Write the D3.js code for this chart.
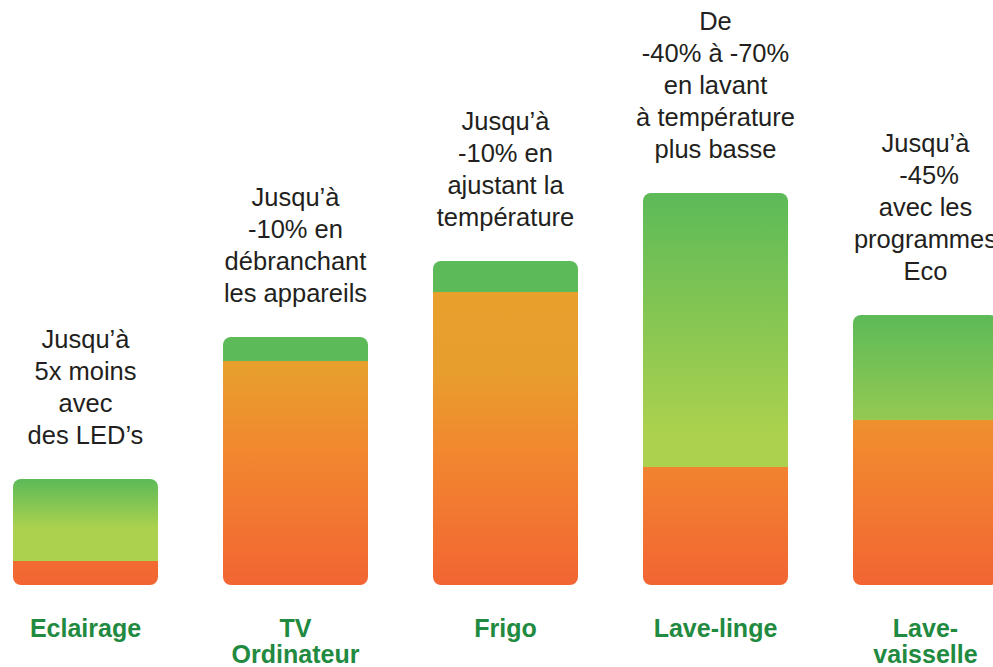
<!DOCTYPE html>
<html>
<head>
<meta charset="utf-8">
<script src="https://cdn.jsdelivr.net/npm/d3@7"></script>
<style>
  body { margin: 0; background: #fff; }
  svg { display: block; }
</style>
</head>
<body>
<svg class="savings-chart"></svg>
<script>
// Data
var categories = ["Eclairage", "TV\nOrdinateur", "Frigo", "Lave-linge", "Lave-\nvaisselle"];
var totalValues = [106, 248, 324, 392, 270];     // full bar (before savings)
var remainValues = [24, 224, 293, 118, 165];     // orange part (after savings)
var notes = [
  ["Jusqu\u2019\u00e0", "5x moins", "avec", "des LED\u2019s"],
  ["Jusqu\u2019\u00e0", "-10% en", "d\u00e9branchant", "les appareils"],
  ["Jusqu\u2019\u00e0", "-10% en", "ajustant la", "temp\u00e9rature"],
  ["De", "-40% \u00e0 -70%", "en lavant", "\u00e0 temp\u00e9rature", "plus basse"],
  ["Jusqu\u2019\u00e0", " -45%", "avec les", "programmes", "Eco"]
];

// green part gradient per bar (top colour, bottom colour, offset where bottom colour is reached)
var greenStyles = [
  { top: "#5cba58", bottom: "#acd14e", at: 0.6 },
  { top: "#5cba58", bottom: "#5cba58", at: 1 },
  { top: "#5cba58", bottom: "#5cba58", at: 1 },
  { top: "#5cba58", bottom: "#acd14e", at: 0.88 },
  { top: "#5cba58", bottom: "#95c952", at: 1 }
];

var width = 993, height = 667;
var svg = d3.select(".savings-chart").attr("width", width).attr("height", height);
var defs = svg.append("defs");

var xScale = d3.scaleBand()
  .domain(categories)
  .range([13, 998])
  .paddingInner(65 / 210)
  .paddingOuter(0);

var yScale = d3.scaleLinear()
  .domain([0, 400])
  .range([585, 185]);

// orange gradient runs along the page height, shared by all bars
var og = defs.append("linearGradient")
  .attr("id", "orange-grad")
  .attr("gradientUnits", "userSpaceOnUse")
  .attr("x1", 0).attr("x2", 0)
  .attr("y1", yScale(324)).attr("y2", yScale(0));
[[0, "#e8a02c"], [0.34, "#e89e2d"], [0.6, "#f2862f"], [1, "#f26533"]].forEach(function(s) {
  og.append("stop").attr("offset", s[0]).attr("stop-color", s[1]);
});

greenStyles.forEach(function(g, i) {
  var lg = defs.append("linearGradient")
    .attr("id", "green-grad-" + i)
    .attr("x1", 0).attr("x2", 0).attr("y1", 0).attr("y2", 1);
  lg.append("stop").attr("offset", 0).attr("stop-color", g.top);
  lg.append("stop").attr("offset", g.at).attr("stop-color", g.bottom);
  lg.append("stop").attr("offset", 1).attr("stop-color", g.bottom);
});

var bw = xScale.bandwidth();
var radius = 8;

categories.forEach(function(c, i) {
  defs.append("clipPath")
    .attr("id", "bar-clip-" + i)
    .append("rect")
    .attr("x", xScale(c))
    .attr("y", yScale(totalValues[i]))
    .attr("width", bw)
    .attr("height", yScale(0) - yScale(totalValues[i]))
    .attr("rx", radius).attr("ry", radius);
});

var bars = svg.selectAll(".bar")
  .data(categories)
  .enter()
  .append("g")
  .classed("bar", true)
  .attr("clip-path", function(d, i) { return "url(#bar-clip-" + i + ")"; });

// green part (savings)
bars.append("rect")
  .attr("x", function(d) { return xScale(d); })
  .attr("y", function(d, i) { return yScale(totalValues[i]); })
  .attr("width", bw)
  .attr("height", function(d, i) { return yScale(remainValues[i]) - yScale(totalValues[i]) + 0.5; })
  .style("fill", function(d, i) { return "url(#green-grad-" + i + ")"; });

// orange part (remaining consumption)
bars.append("rect")
  .attr("x", function(d) { return xScale(d); })
  .attr("y", function(d, i) { return yScale(remainValues[i]); })
  .attr("width", bw)
  .attr("height", function(d, i) { return yScale(0) - yScale(remainValues[i]); })
  .style("fill", "url(#orange-grad)");

// notes above bars
var noteLine = 32;
svg.selectAll(".note")
  .data(categories)
  .enter()
  .append("text")
  .classed("note", true)
  .style("font-family", "'Liberation Sans', Arial, Helvetica, sans-serif")
  .style("font-size", "25.5px")
  .style("fill", "#231f20")
  .style("text-anchor", "middle")
  .each(function(d, i) {
    var lines = notes[i];
    var baseY = yScale(totalValues[i]) - 35 - (lines.length - 1) * noteLine;
    var t = d3.select(this);
    lines.forEach(function(l, j) {
      t.append("tspan")
        .attr("x", xScale(d) + bw / 2)
        .attr("y", baseY + j * noteLine)
        .style("white-space", "pre")
        .text(l);
    });
  });

// category labels
svg.selectAll(".cat-label")
  .data(categories)
  .enter()
  .append("text")
  .classed("cat-label", true)
  .style("font-family", "'Liberation Sans', Arial, Helvetica, sans-serif")
  .style("font-size", "25px")
  .style("font-weight", "bold")
  .style("fill", "#1f8a40")
  .style("text-anchor", "middle")
  .each(function(d) {
    var t = d3.select(this);
    d.split("\n").forEach(function(l, j) {
      t.append("tspan")
        .attr("x", xScale(d) + bw / 2)
        .attr("y", 637 + j * 26)
        .text(l);
    });
  });
</script>
</body>
</html>
